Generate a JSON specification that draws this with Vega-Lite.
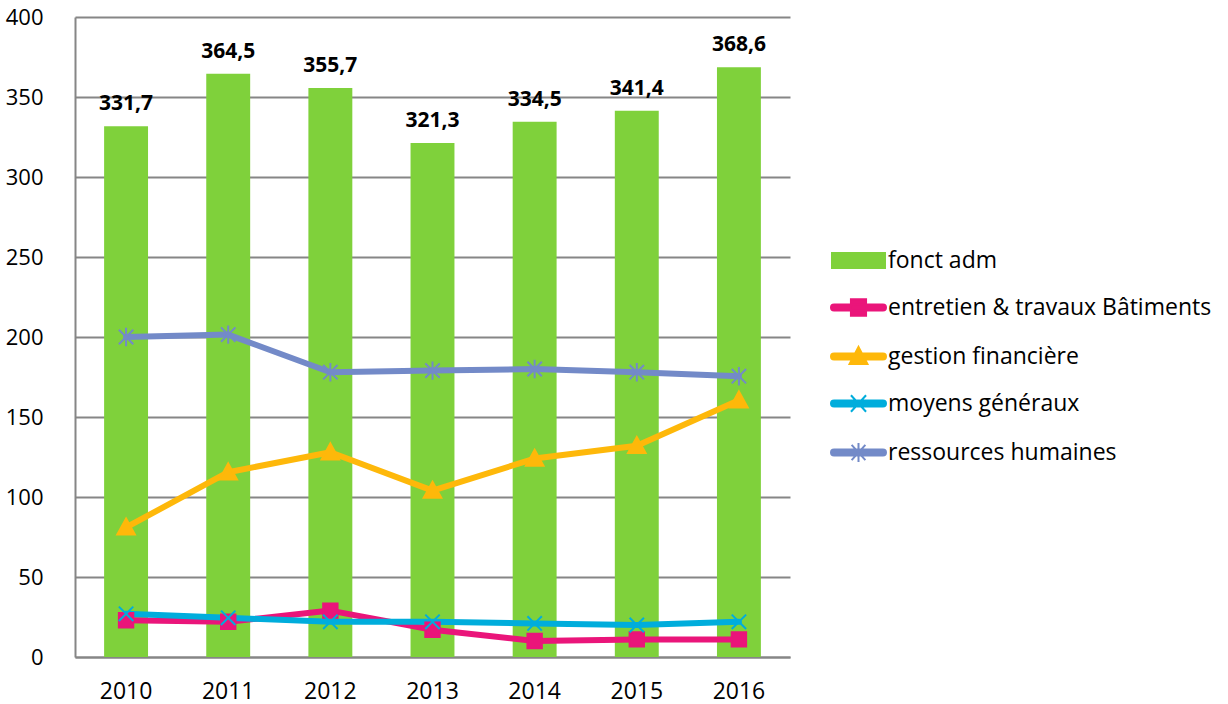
{
  "$schema": "https://vega.github.io/schema/vega-lite/v6.json",
  "width": 715,
  "height": 640,
  "autosize": {"type": "none"},
  "padding": {"left": 75, "top": 17, "right": 438, "bottom": 47},
  "background": "white",
  "config": {
    "font": "Open Sans",
    "locale": {"number": {"decimal": ",", "thousands": " ", "grouping": [3], "currency": ["", " €"]}},
    "view": {"stroke": null},
    "axis": {"labelFont": "Open Sans", "labelFontSize": 22, "labelColor": "#000000", "ticks": false, "domainColor": "#868686", "domainWidth": 2, "gridColor": "#868686", "gridWidth": 2, "title": null}
  },
  "data": {"values": [
    {"annee": "2010", "serie": "fonct adm", "valeur": 331.7},
    {"annee": "2011", "serie": "fonct adm", "valeur": 364.5},
    {"annee": "2012", "serie": "fonct adm", "valeur": 355.7},
    {"annee": "2013", "serie": "fonct adm", "valeur": 321.3},
    {"annee": "2014", "serie": "fonct adm", "valeur": 334.5},
    {"annee": "2015", "serie": "fonct adm", "valeur": 341.4},
    {"annee": "2016", "serie": "fonct adm", "valeur": 368.6},
    {"annee": "2010", "serie": "entretien & travaux Bâtiments", "valeur": 23},
    {"annee": "2011", "serie": "entretien & travaux Bâtiments", "valeur": 22},
    {"annee": "2012", "serie": "entretien & travaux Bâtiments", "valeur": 29},
    {"annee": "2013", "serie": "entretien & travaux Bâtiments", "valeur": 17},
    {"annee": "2014", "serie": "entretien & travaux Bâtiments", "valeur": 10},
    {"annee": "2015", "serie": "entretien & travaux Bâtiments", "valeur": 11},
    {"annee": "2016", "serie": "entretien & travaux Bâtiments", "valeur": 11},
    {"annee": "2010", "serie": "gestion financière", "valeur": 81},
    {"annee": "2011", "serie": "gestion financière", "valeur": 115.5},
    {"annee": "2012", "serie": "gestion financière", "valeur": 128},
    {"annee": "2013", "serie": "gestion financière", "valeur": 104},
    {"annee": "2014", "serie": "gestion financière", "valeur": 124},
    {"annee": "2015", "serie": "gestion financière", "valeur": 132},
    {"annee": "2016", "serie": "gestion financière", "valeur": 160.5},
    {"annee": "2010", "serie": "moyens généraux", "valeur": 27},
    {"annee": "2011", "serie": "moyens généraux", "valeur": 24.5},
    {"annee": "2012", "serie": "moyens généraux", "valeur": 22},
    {"annee": "2013", "serie": "moyens généraux", "valeur": 22},
    {"annee": "2014", "serie": "moyens généraux", "valeur": 21},
    {"annee": "2015", "serie": "moyens généraux", "valeur": 20},
    {"annee": "2016", "serie": "moyens généraux", "valeur": 22},
    {"annee": "2010", "serie": "ressources humaines", "valeur": 200},
    {"annee": "2011", "serie": "ressources humaines", "valeur": 201.5},
    {"annee": "2012", "serie": "ressources humaines", "valeur": 178},
    {"annee": "2013", "serie": "ressources humaines", "valeur": 179},
    {"annee": "2014", "serie": "ressources humaines", "valeur": 180},
    {"annee": "2015", "serie": "ressources humaines", "valeur": 178},
    {"annee": "2016", "serie": "ressources humaines", "valeur": 175.5}
  ]},
  "encoding": {
    "x": {"field": "annee", "type": "nominal", "scale": {"paddingInner": 0, "paddingOuter": 0},
      "axis": {"labelAngle": 0, "labelPadding": 23, "labelFontSize": 23, "grid": false}}
  },
  "layer": [
    {
      "transform": [{"filter": "datum.serie === 'fonct adm'"}],
      "mark": {"type": "bar", "width": {"band": 0.43}},
      "encoding": {
        "y": {"field": "valeur", "type": "quantitative", "scale": {"domain": [0, 400]},
          "axis": {"values": [0, 50, 100, 150, 200, 250, 300, 350, 400], "grid": true, "labelPadding": 32, "format": "d"}},
        "color": {"field": "serie", "type": "nominal",
          "scale": {"domain": ["fonct adm", "entretien & travaux Bâtiments", "gestion financière", "moyens généraux", "ressources humaines"],
                    "range": ["#7fd13b", "#ea157a", "#feb80a", "#00addc", "#738ac8"]},
          "legend": {
            "orient": "none", "legendX": 758, "legendY": 232, "title": null, "padding": 0,
            "symbolSize": 756, "symbolOffset": 14, "labelOffset": 18, "labelFontSize": 23, "labelFont": "Open Sans",
            "labelColor": "#000000", "rowPadding": 22, "labelLimit": 500,
            "encode": {"symbols": {"update": {
              "shape": {"signal": "datum.value === 'fonct adm' ? 'M-2,-0.62H2V0.62H-2Z' : datum.value === 'entretien & travaux Bâtiments' ? 'M-1.78,-0.22H1.78A0.22,0.22,0,0,1,1.78,0.22H-1.78A0.22,0.22,0,0,1,-1.78,-0.22ZM-0.55,-0.6H0.55V0.6H-0.55Z' : datum.value === 'gestion financière' ? 'M-1.78,-0.22H1.78A0.22,0.22,0,0,1,1.78,0.22H-1.78A0.22,0.22,0,0,1,-1.78,-0.22ZM0,-0.7L0.65,0.55H-0.65Z' : datum.value === 'moyens généraux' ? 'M-1.78,-0.22H1.78A0.22,0.22,0,0,1,1.78,0.22H-1.78A0.22,0.22,0,0,1,-1.78,-0.22ZM-0.55,-0.6L0.55,0.6M0.55,-0.6L-0.55,0.6' : 'M-1.78,-0.22H1.78A0.22,0.22,0,0,1,1.78,0.22H-1.78A0.22,0.22,0,0,1,-1.78,-0.22ZM-0.5,-0.55L0.5,0.55M0.5,-0.55L-0.5,0.55M0,-0.7V0.7'"},
              "fill": {"signal": "scale('color', datum.value)"},
              "stroke": {"signal": "scale('color', datum.value)"},
              "strokeWidth": {"signal": "datum.value === 'fonct adm' ? 0 : 2"},
              "opacity": {"value": 1},
              "fillOpacity": {"value": 1},
              "strokeOpacity": {"value": 1}
            }}}
          }
        }
      }
    },
    {
      "transform": [{"filter": "datum.serie === 'fonct adm'"}],
      "mark": {"type": "text", "baseline": "bottom", "dy": -12, "fontSize": 21, "fontWeight": "bold", "color": "#000000"},
      "encoding": {
        "y": {"field": "valeur", "type": "quantitative"},
        "text": {"field": "valeur", "type": "quantitative", "format": ".1f"}
      }
    },
    {
      "transform": [{"filter": "datum.serie !== 'fonct adm'"}],
      "mark": {"type": "line", "strokeWidth": 6, "strokeCap": "round", "strokeJoin": "round"},
      "encoding": {
        "y": {"field": "valeur", "type": "quantitative"},
        "color": {"field": "serie", "type": "nominal"}
      }
    },
    {
      "transform": [{"filter": "datum.serie !== 'fonct adm'"}],
      "mark": {"type": "point", "filled": true, "strokeWidth": 2, "opacity": 1, "size": 256},
      "encoding": {
        "y": {"field": "valeur", "type": "quantitative"},
        "color": {"field": "serie", "type": "nominal"},
        "stroke": {"field": "serie", "type": "nominal", "legend": null,
          "scale": {"domain": ["entretien & travaux Bâtiments", "gestion financière", "moyens généraux", "ressources humaines"],
                    "range": ["#ea157a", "#feb80a", "#00addc", "#738ac8"]}},
        "shape": {"field": "serie", "type": "nominal", "legend": null,
          "scale": {"domain": ["entretien & travaux Bâtiments", "gestion financière", "moyens généraux", "ressources humaines"],
                    "range": ["M-0.9,-0.9H0.9V0.9H-0.9Z", "M0,-1.1L1.1,0.9H-1.1Z", "M-0.9,-0.9L0.9,0.9M0.9,-0.9L-0.9,0.9", "M-0.9,-0.9L0.9,0.9M0.9,-0.9L-0.9,0.9M0,-1.15V1.15"]}}
      }
    }
  ]
}
